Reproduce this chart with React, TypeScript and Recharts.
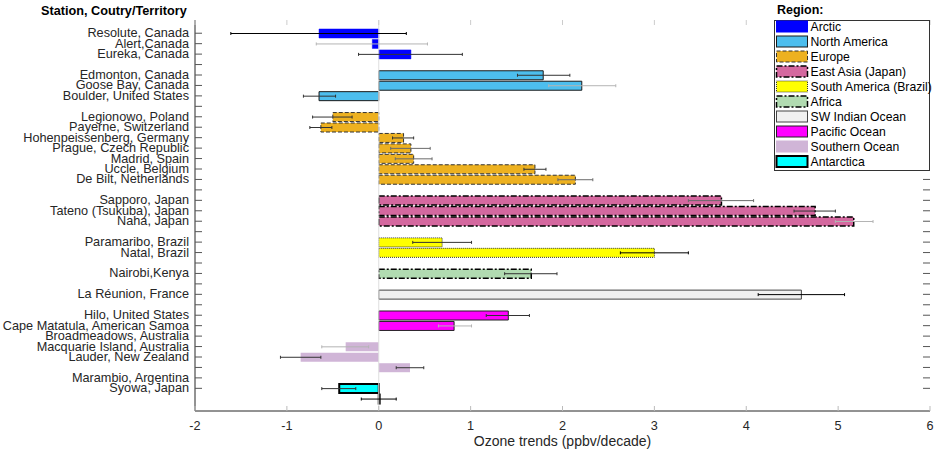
import React from 'react';
import {
  ComposedChart,
  Bar,
  XAxis,
  YAxis,
  ErrorBar,
  Cell,
  ReferenceLine,
} from 'recharts';

// ---------- data ----------
const stations = [
  'Resolute, Canada',
  'Alert,Canada',
  'Eureka, Canada',
  '',
  'Edmonton, Canada',
  'Goose Bay, Canada',
  'Boulder, United States',
  '',
  'Legionowo, Poland',
  'Payerne, Switzerland',
  'Hohenpeissenberg, Germany',
  'Prague, Czech Republic',
  'Madrid, Spain',
  'Uccle, Belgium',
  'De Bilt, Netherlands',
  '',
  'Sapporo, Japan',
  'Tateno (Tsukuba), Japan',
  'Naha, Japan',
  '',
  'Paramaribo, Brazil',
  'Natal, Brazil',
  '',
  'Nairobi,Kenya',
  '',
  'La Réunion, France',
  '',
  'Hilo, United States',
  'Cape Matatula, American Samoa',
  'Broadmeadows, Australia',
  'Macquarie Island, Australia',
  'Lauder, New Zealand',
  '',
  'Marambio, Argentina',
  'Syowa, Japan',
  '',
];

const trends: (number | null)[] = [
  -0.65, -0.07, 0.35, null,
  1.79, 2.21, -0.65, null,
  -0.5, -0.63, 0.27, 0.35, 0.38, 1.7, 2.14, null,
  3.73, 4.75, 5.17, null,
  0.69, 3.0, null,
  1.66, null,
  4.6, null,
  1.41, 0.82, null, -0.36, -0.85, 0.34, null,
  -0.43, 0.01,
];

const lowerCI: (number | null)[] = [
  -1.61, -0.68, -0.22, null,
  1.51, 1.85, -0.82, null,
  -0.72, -0.75, 0.15, 0.13, 0.18, 1.58, 1.95, null,
  3.37, 4.52, 4.97, null,
  0.37, 2.63, null,
  1.37, null,
  4.13, null,
  1.17, 0.65, null, -0.62, -1.07, 0.19, null,
  -0.62, -0.19,
];

const upperCI: (number | null)[] = [
  0.3, 0.53, 0.91, null,
  2.08, 2.58, -0.47, null,
  -0.29, -0.51, 0.38, 0.56, 0.58, 1.82, 2.33, null,
  4.08, 4.97, 5.38, null,
  1.01, 3.37, null,
  1.94, null,
  5.07, null,
  1.64, 1.01, null, -0.11, -0.63, 0.49, null,
  -0.25, 0.19,
];

// region index of each row (-1 = spacer row)
const regionOfRow = [
  0, 0, 0, -1,
  1, 1, 1, -1,
  2, 2, 2, 2, 2, 2, 2, -1,
  3, 3, 3, -1,
  4, 4, -1,
  5, -1,
  6, -1,
  7, 7, -1, 8, 8, 8, -1,
  9, 9,
];

// error bar shade of each row: k = black, d = dark grey, m = mid grey, l = light grey
const errShade = [
  'k', 'l', 'd', '',
  'd', 'l', 'd', '',
  'd', 'd', 'd', 'm', 'm', 'd', 'm', '',
  'm', 'd', 'l', '',
  'd', 'k', '',
  'd', '',
  'k', '',
  'd', 'l', '', 'l', 'd', 'd', '',
  'd', 'k',
];

const regions = [
  'Arctic',
  'North America',
  'Europe',
  'East Asia (Japan)',
  'South America (Brazil)',
  'Africa',
  'SW Indian Ocean',
  'Pacific Ocean',
  'Southern Ocean',
  'Antarctica',
];

const xTicks = [-2, -1, 0, 1, 2, 3, 4, 5, 6];

// ---------- styles ----------
type RS = { fill: string; stroke: string; sw: number; dash?: string };
const REGION_STYLE: RS[] = [
  { fill: '#0000ff', stroke: '#0000ff', sw: 0.5 },
  { fill: '#4dbeee', stroke: '#1a1a1a', sw: 1 },
  { fill: '#edb120', stroke: '#333333', sw: 1, dash: '4 2' },
  { fill: '#d4689f', stroke: '#000000', sw: 1.5, dash: '6 2 2 2' },
  { fill: '#ffff00', stroke: '#333333', sw: 1, dash: '1 1' },
  { fill: '#b1dbb1', stroke: '#000000', sw: 1.5, dash: '6 2 2 2' },
  { fill: '#f0f0f0', stroke: '#444444', sw: 1 },
  { fill: '#ff00ff', stroke: '#222222', sw: 1 },
  { fill: '#d0b5d7', stroke: 'none', sw: 0 },
  { fill: '#00ffff', stroke: '#000000', sw: 2 },
];

const W = 935;
const H = 452;
const PLOT_TOP = 20;
const PLOT_RIGHT = 930;
const PLOT_BOTTOM = 411;
const Y_AXIS_W = 195;
const TEXT = '#262626';
const FONT = '"Liberation Sans", Arial, Helvetica, sans-serif';

const errPair = (i: number, shade: string) => {
  const v = trends[i];
  const lo = lowerCI[i];
  const hi = upperCI[i];
  if (v === null || lo === null || hi === null || errShade[i] !== shade) return undefined;
  return [v - lo, hi - v];
};

const rows = stations.map((s, i) => ({
  row: i,
  station: s,
  trend: trends[i],
  errK: errPair(i, 'k'),
  errD: errPair(i, 'd'),
  errM: errPair(i, 'm'),
  errL: errPair(i, 'l'),
}));

const lastTickRow = stations.length - 2;

const YTick = (props: any) => {
  const { x, y, payload } = props;
  const i = Number(payload.value);
  const axisX = x + 6;
  return (
    <g>
      <text
        x={x}
        y={y}
        textAnchor="end"
        dominantBaseline="central"
        fontSize={12.7}
        fill={TEXT}
        fontFamily={FONT}
      >
        {stations[i]}
      </text>
      {i <= lastTickRow && (
        <>
          <line x1={axisX} x2={axisX + 7} y1={y} y2={y} stroke="#555" strokeWidth={1} />
          <line x1={PLOT_RIGHT - 7} x2={PLOT_RIGHT} y1={y} y2={y} stroke="#555" strokeWidth={1} />
        </>
      )}
    </g>
  );
};

const XTick = (props: any) => {
  const { x, y, payload } = props;
  return (
    <g>
      <line x1={x} x2={x} y1={y} y2={y - 5} stroke="#bbb" />
      <line x1={x} x2={x} y1={PLOT_TOP} y2={PLOT_TOP + 5} stroke="#ccc" />
      <text x={x} y={y + 19} textAnchor="middle" fontSize={12.7} fill={TEXT} fontFamily={FONT}>
        {payload.value}
      </text>
    </g>
  );
};

const LEG_X = 774.5;
const LEG_Y = 20.5;
const LEG_W = 155;
const LEG_H = 150;

export default function App() {
  return (
    <div
      style={{
        position: 'absolute',
        left: 0,
        top: 0,
        width: W,
        height: H,
        background: '#fff',
        fontFamily: FONT,
      }}
    >
      <ComposedChart
        width={W}
        height={H}
        layout="vertical"
        data={rows}
        margin={{ top: PLOT_TOP, right: W - PLOT_RIGHT, bottom: 0, left: 0 }}
      >
        <ReferenceLine x={0} stroke="#dedede" strokeWidth={1} ifOverflow="visible" />
        <XAxis
          type="number"
          dataKey="trend"
          domain={[-2, 6]}
          ticks={xTicks}
          allowDataOverflow
          height={H - PLOT_BOTTOM}
          tickLine={false}
          tickSize={0}
          tickMargin={0}
          axisLine={{ stroke: TEXT }}
          tick={<XTick />}
          interval={0}
          label={{
            value: 'Ozone trends (ppbv/decade)',
            position: 'insideBottom',
            offset: 6,
            fontSize: 14,
            fill: TEXT,
            fontFamily: FONT,
          }}
        />
        <XAxis
          xAxisId="top"
          orientation="top"
          type="number"
          domain={[-2, 6]}
          ticks={xTicks}
          allowDataOverflow
          height={0}
          tick={false}
          tickLine={false}
          axisLine={{ stroke: '#a0a0a0' }}
        />
        <YAxis
          type="category"
          dataKey="row"
          width={Y_AXIS_W}
          interval={0}
          tickLine={false}
          tickSize={0}
          tickMargin={6}
          axisLine={{ stroke: TEXT }}
          tick={<YTick />}
          padding={{ top: 8, bottom: 7 }}
        />
        <YAxis
          yAxisId="right"
          orientation="right"
          type="category"
          dataKey="row"
          width={0}
          tick={false}
          tickLine={false}
          axisLine={{ stroke: '#333' }}
        />
        <Bar dataKey="trend" barSize={9} isAnimationActive={false}>
          {rows.map((r, i) => {
            const reg = regionOfRow[i];
            const st = REGION_STYLE[reg < 0 ? 0 : reg];
            return (
              <Cell
                key={`c${i}`}
                fill={st.fill}
                stroke={st.stroke}
                strokeWidth={st.sw}
                strokeDasharray={st.dash}
              />
            );
          })}
          <ErrorBar dataKey="errL" direction="x" width={1.5} stroke="#b4b4b4" strokeWidth={1} isAnimationActive={false} />
          <ErrorBar dataKey="errM" direction="x" width={1.5} stroke="#6a6a6a" strokeWidth={1} isAnimationActive={false} />
          <ErrorBar dataKey="errD" direction="x" width={1.5} stroke="#333333" strokeWidth={1} isAnimationActive={false} />
          <ErrorBar dataKey="errK" direction="x" width={1.5} stroke="#000000" strokeWidth={1} isAnimationActive={false} />
        </Bar>
      </ComposedChart>

      <svg
        width={W}
        height={H}
        style={{ position: 'absolute', left: 0, top: 0, pointerEvents: 'none' }}
      >
        <text x={41} y={14.5} fontSize={12.7} fontWeight="bold" fill="#000" fontFamily={FONT}>
          Station, Coutry/Territory
        </text>
        <text x={777} y={13.5} fontSize={12.5} fontWeight="bold" fill="#000" fontFamily={FONT}>
          Region:
        </text>
        <rect x={LEG_X} y={LEG_Y} width={LEG_W} height={LEG_H} fill="#fff" stroke="#333" />
        {regions.map((name, i) => {
          const st = REGION_STYLE[i];
          const cy = 26.5 + i * 15;
          return (
            <g key={name}>
              <rect
                x={776.5}
                y={cy - 5.5}
                width={31}
                height={11}
                fill={st.fill}
                stroke={st.stroke === 'none' ? st.fill : st.stroke}
                strokeWidth={Math.max(st.sw, 1)}
                strokeDasharray={st.dash}
              />
              <text
                x={810.5}
                y={cy}
                dominantBaseline="central"
                fontSize={12.2}
                fill="#000"
                fontFamily={FONT}
              >
                {name}
              </text>
            </g>
          );
        })}
      </svg>
    </div>
  );
}
